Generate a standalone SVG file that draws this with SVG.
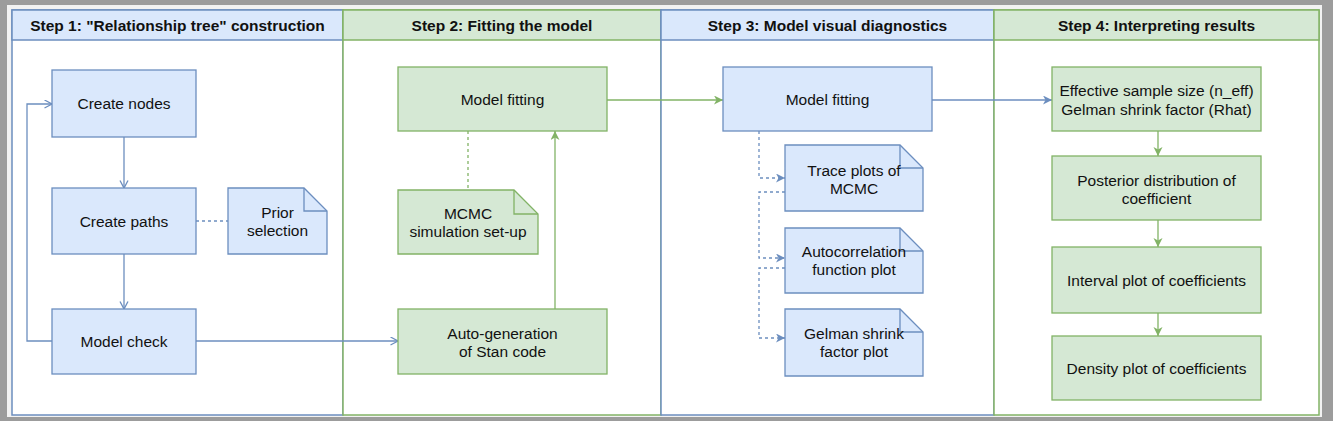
<svg xmlns="http://www.w3.org/2000/svg" width="1333" height="421" viewBox="0 0 1333 421">
<style>
text{font-family:"Liberation Sans",Arial,sans-serif;font-size:15.5px;fill:#111;text-anchor:middle}
.h{font-weight:bold}
.bn{fill:#dae8fc;stroke:#6c8ebf;stroke-width:1.3}
.gn{fill:#d5e8d4;stroke:#82b366;stroke-width:1.3}
.fold{fill:none;stroke-width:1.3}
.bl{fill:none;stroke:#6c8ebf;stroke-width:1.3}
.gl{fill:none;stroke:#82b366;stroke-width:1.3}
.lane{fill:#fff;stroke-width:1.5}
.d{stroke-dasharray:3 3}
</style>
<defs>
<marker id="ob" markerUnits="userSpaceOnUse" markerWidth="12" markerHeight="12" refX="8" refY="4.5" orient="auto"><path d="M0.5,0.5 L8,4.5 L0.5,8.5" fill="none" stroke="#6c8ebf" stroke-width="1.3"/></marker>
<marker id="cb" markerUnits="userSpaceOnUse" markerWidth="12" markerHeight="12" refX="9" refY="4.5" orient="auto"><path d="M0,0 L9,4.5 L0,9 L2.5,4.5 Z" fill="#6c8ebf"/></marker>
<marker id="cg" markerUnits="userSpaceOnUse" markerWidth="12" markerHeight="12" refX="9" refY="4.5" orient="auto"><path d="M0,0 L9,4.5 L0,9 L2.5,4.5 Z" fill="#82b366"/></marker>
</defs>
<rect x="0" y="0" width="1333" height="421" fill="#9c9c9c"/>
<rect x="7" y="5" width="1315" height="412" fill="#f2f2f2"/>
<g id="lane1">
<rect class="lane" x="12" y="10" width="331" height="405" stroke="#6c8ebf"/>
<rect x="12" y="10" width="331" height="30" fill="#dae8fc" stroke="#6c8ebf" stroke-width="1.5"/>
<text class="h" x="177.5" y="30.5">Step 1: "Relationship tree" construction</text>
</g>
<g id="lane2">
<rect class="lane" x="343" y="10" width="318" height="405" stroke="#82b366"/>
<rect x="343" y="10" width="318" height="30" fill="#d5e8d4" stroke="#82b366" stroke-width="1.5"/>
<text class="h" x="502" y="30.5">Step 2: Fitting the model</text>
</g>
<g id="lane3">
<rect class="lane" x="661" y="10" width="333" height="405" stroke="#6c8ebf"/>
<rect x="661" y="10" width="333" height="30" fill="#dae8fc" stroke="#6c8ebf" stroke-width="1.5"/>
<text class="h" x="827.5" y="30.5">Step 3: Model visual diagnostics</text>
</g>
<g id="lane4">
<rect class="lane" x="994" y="10" width="325" height="405" stroke="#82b366"/>
<rect x="994" y="10" width="325" height="30" fill="#d5e8d4" stroke="#82b366" stroke-width="1.5"/>
<text class="h" x="1156.5" y="30.5">Step 4: Interpreting results</text>
</g>
<g id="connectors">
<path class="bl" d="M124,137 V188" marker-end="url(#ob)"/>
<path class="bl" d="M124,254 V309" marker-end="url(#ob)"/>
<path class="bl" d="M52,341 H27 V104 H52" marker-end="url(#ob)"/>
<path class="bl" d="M196,341 H398" marker-end="url(#ob)"/>
<path class="bl d" d="M196,221 H228"/>
<path class="gl" d="M555,309 V131" marker-end="url(#cg)"/>
<path class="gl d" d="M468,131 V190"/>
<path class="gl" d="M607,100 H723" marker-end="url(#cg)"/>
<path class="bl" d="M932,100 H1052" marker-end="url(#cb)"/>
<path class="bl d" d="M759,131 V178 H785" marker-end="url(#cb)"/>
<path class="bl d" d="M785,192 H759 V258 H785" marker-end="url(#cb)"/>
<path class="bl d" d="M785,268 H759 V338 H785" marker-end="url(#cb)"/>
<path class="gl" d="M1158,131 V156" marker-end="url(#cg)"/>
<path class="gl" d="M1158,220 V247" marker-end="url(#cg)"/>
<path class="gl" d="M1158,313 V336" marker-end="url(#cg)"/>
</g>
<g id="create-nodes"><rect class="bn" x="52" y="70" width="144" height="67"/><text x="124" y="109">Create nodes</text></g>
<g id="create-paths"><rect class="bn" x="52" y="188" width="144" height="66"/><text x="124" y="226.5">Create paths</text></g>
<g id="model-check"><rect class="bn" x="52" y="309" width="144" height="65"/><text x="124" y="347">Model check</text></g>
<g id="prior-selection"><path class="bn" d="M228,188 H304 L327,211 V254 H228 Z"/><path class="fold" stroke="#6c8ebf" d="M304,188 V211 H327"/><text x="277.5" y="217.5">Prior</text><text x="277.5" y="235.5">selection</text></g>
<g id="model-fitting-2"><rect class="gn" x="398" y="67" width="209" height="64"/><text x="502.5" y="104.5">Model fitting</text></g>
<g id="mcmc-setup"><path class="gn" d="M398,190 H514 L538,214 V254 H398 Z"/><path class="fold" stroke="#82b366" d="M514,190 V214 H538"/><text x="468" y="218.5">MCMC</text><text x="468" y="237">simulation set-up</text></g>
<g id="auto-generation"><rect class="gn" x="398" y="309" width="209" height="65"/><text x="502.5" y="338.5">Auto-generation</text><text x="502.5" y="356.5">of Stan code</text></g>
<g id="model-fitting-3"><rect class="bn" x="723" y="67" width="209" height="64"/><text x="827.5" y="104.5">Model fitting</text></g>
<g id="trace-plots"><path class="bn" d="M785,145 H900 L923,168 V211 H785 Z"/><path class="fold" stroke="#6c8ebf" d="M900,145 V168 H923"/><text x="854" y="175.5">Trace plots of</text><text x="854" y="193.5">MCMC</text></g>
<g id="autocorrelation"><path class="bn" d="M785,228 H900 L923,251 V293 H785 Z"/><path class="fold" stroke="#6c8ebf" d="M900,228 V251 H923"/><text x="854" y="257">Autocorrelation</text><text x="854" y="275">function plot</text></g>
<g id="gelman-plot"><path class="bn" d="M785,309 H900 L923,332 V376 H785 Z"/><path class="fold" stroke="#6c8ebf" d="M900,309 V332 H923"/><text x="854" y="338.5">Gelman shrink</text><text x="854" y="356.5">factor plot</text></g>
<g id="neff-rhat"><rect class="gn" x="1052" y="67" width="209" height="64"/><text x="1156.5" y="95.5">Effective sample size (n_eff)</text><text x="1156.5" y="115">Gelman shrink factor (Rhat)</text></g>
<g id="posterior"><rect class="gn" x="1052" y="156" width="209" height="64"/><text x="1156.5" y="185.5">Posterior distribution of</text><text x="1156.5" y="203.5">coefficient</text></g>
<g id="interval-plot"><rect class="gn" x="1052" y="247" width="209" height="66"/><text x="1156.5" y="285.5">Interval plot of coefficients</text></g>
<g id="density-plot"><rect class="gn" x="1052" y="336" width="209" height="64"/><text x="1156.5" y="373.5">Density plot of coefficients</text></g>
</svg>
